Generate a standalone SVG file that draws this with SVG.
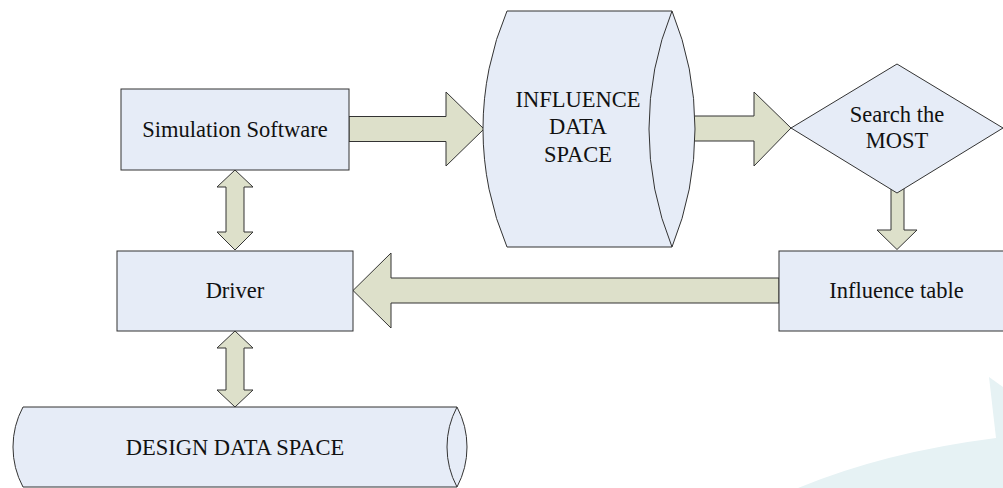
<svg xmlns="http://www.w3.org/2000/svg" width="1003" height="488" viewBox="0 0 1003 488">
<style>
.node{fill:#E6ECF7;stroke:#333;stroke-width:1}
.line{fill:none;stroke:#333;stroke-width:1}
.arr{fill:#DDE0CA;stroke:#333;stroke-width:1;stroke-linejoin:miter}
.t{font-family:'Liberation Serif','Times New Roman',serif;font-size:22.5px;fill:#111;text-anchor:middle}
</style>
<rect width="1003" height="488" fill="#fff"/>
<path d="M989 377 L1003 387 L1003 488 L798 488 Q885 452 996 438 Z" fill="#E6F2F4"/>
<g id="connectors">
<polygon class="arr" points="349,116.5 446,116.5 446,92 484,129 446,166 446,141.5 349,141.5"/>
<polygon class="arr" points="690,116 754,116 754,92 791,128 754,166 754,141 690,141"/>
<polygon class="arr" points="891,188 904,188 904,230 917,230 897,249.5 877,230 891,230"/>
<polygon class="arr" points="779,278 391,278 391,253 353,290.5 391,328 391,303 779,303"/>
<polygon class="arr" points="235,170 253,187 244,187 244,232 253,232 235,250 217,232 226,232 226,187 217,187"/>
<polygon class="arr" points="235,331 253,348 244,348 244,390 253,390 235,407 217,390 226,390 226,348 217,348"/>
</g>
<g id="sim">
<rect class="node" x="121" y="89" width="228" height="81"/>
<text class="t" x="235" y="137">Simulation Software</text>
</g>
<g id="influence-data">
<path class="node" d="M507 11 L672 11 A314 314 0 0 1 672 247 L507 247 A302 302 0 0 1 507 11 Z"/>
<path class="line" d="M672 11 A314 314 0 0 0 672 247"/>
<text class="t" x="578" y="107">INFLUENCE</text>
<text class="t" x="578" y="134">DATA</text>
<text class="t" x="578" y="162">SPACE</text>
</g>
<g id="search">
<polygon class="node" points="791,128 897,64 1003,128 897,193"/>
<text class="t" x="897" y="122">Search the</text>
<text class="t" x="897" y="148">MOST</text>
</g>
<g id="table">
<rect class="node" x="779" y="251" width="235" height="80"/>
<text class="t" x="896.5" y="298">Influence table</text>
</g>
<g id="driver">
<rect class="node" x="117" y="251" width="236" height="80"/>
<text class="t" x="235" y="298">Driver</text>
</g>
<g id="design-data">
<path class="node" d="M23 407 L457 407 A85 85 0 0 1 457 487 L23 487 A85 85 0 0 1 23 407 Z"/>
<path class="line" d="M457 407 A85 85 0 0 0 457 487"/>
<text class="t" x="235" y="455">DESIGN DATA SPACE</text>
</g>
</svg>
